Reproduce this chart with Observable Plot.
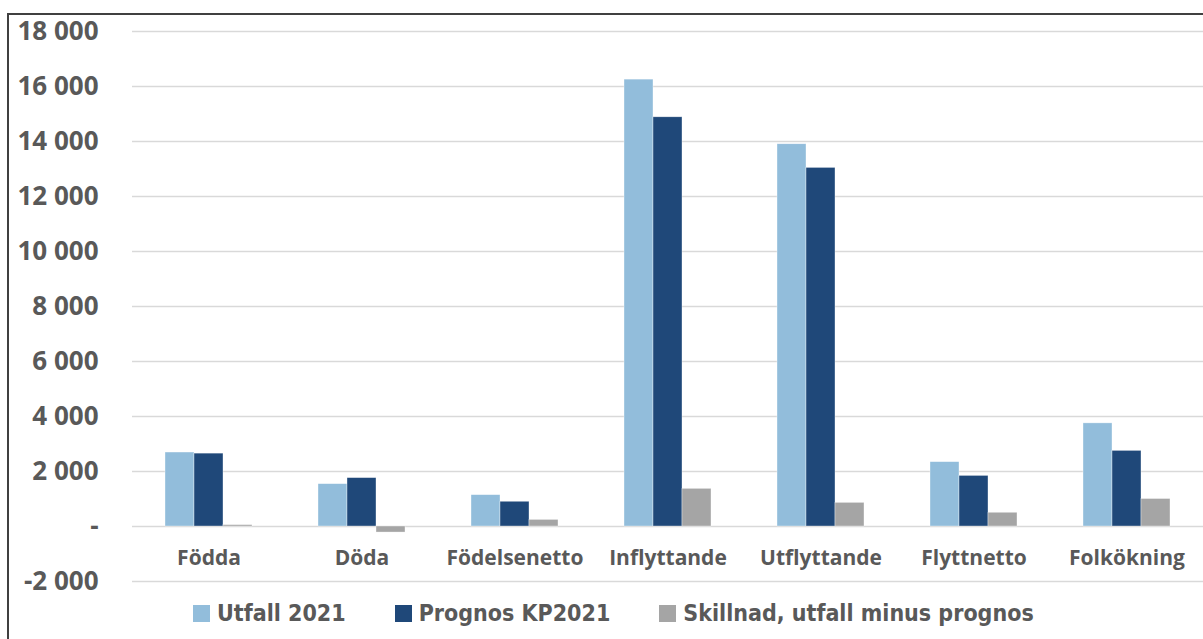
<!DOCTYPE html>
<html>
<head>
<meta charset="utf-8">
<script src="https://cdn.jsdelivr.net/npm/d3@7"></script>
<script src="https://cdn.jsdelivr.net/npm/@observablehq/plot@0.6"></script>
<style>
  html, body { margin: 0; padding: 0; background: #fff; }
  #wrap { position: relative; width: 1203px; height: 639px; overflow: hidden; }
  #border { position: absolute; left: 7px; top: 13px; width: 1300px; height: 700px; border-left: 2px solid #404040; border-top: 2px solid #404040; box-sizing: border-box; pointer-events: none; }
  #chart { position: absolute; left: 0; top: 0; }
  #legend { position: absolute; left: 193px; top: 597px; height: 32px; display: flex; align-items: center;
    font-family: "Liberation Sans Narrow", "DejaVu Sans Condensed", sans-serif; font-weight: bold; font-size: 23px; color: #595959; }
  .item { display: flex; align-items: center; margin-right: 49px; white-space: nowrap; }
  .sw { width: 17px; height: 17px; margin-right: 7px; }
</style>
</head>
<body>
<div id="wrap">
  <div id="chart"></div>
  <div id="border"></div>
  <div id="legend"></div>
</div>
<script>
const categories = ["Födda", "Döda", "Födelsenetto", "Inflyttande", "Utflyttande", "Flyttnetto", "Folkökning"];
const seriesNames = ["Utfall 2021", "Prognos KP2021", "Skillnad, utfall minus prognos"];
const utfall2021 = [2690, 1540, 1140, 16250, 13900, 2340, 3750];
const prognosKP2021 = [2650, 1760, 900, 14880, 13040, 1840, 2750];
const skillnad = [50, -220, 240, 1370, 860, 500, 1000];
const colors = ["#92BDDB", "#1F4879", "#A5A5A5"];
const yTicks = [-2000, 0, 2000, 4000, 6000, 8000, 10000, 12000, 14000, 16000, 18000];

const seriesValues = [utfall2021, prognosKP2021, skillnad];
const data = [];
categories.forEach((c, i) => {
  seriesNames.forEach((s, j) => data.push({category: c, series: s, value: seriesValues[j][i]}));
});

const fmt = d => d === 0 ? "-" : (d < 0 ? "-" : "") + d3.format(",")(Math.abs(d)).replace(/,/g, " ");

const chart = Plot.plot({
  width: 1203,
  height: 595,
  marginLeft: 131,
  marginRight: 0,
  marginTop: 31,
  marginBottom: 14,
  style: {background: "transparent", overflow: "visible"},
  fx: {domain: categories, padding: 0, axis: null},
  x: {domain: seriesNames, paddingInner: 0, paddingOuter: 1.09, axis: null},
  y: {domain: [-2000, 18000], ticks: yTicks, tickFormat: fmt, tickSize: 0, tickPadding: 34, label: null},
  color: {domain: seriesNames, range: colors},
  marks: [
    Plot.ruleY(yTicks, {stroke: "#D9D9D9", strokeWidth: 1.5}),
    Plot.barY(data, {fx: "category", x: "series", y: "value", fill: "series", stroke: "#fff", strokeWidth: 0.6, strokeOpacity: 0.6}),
    Plot.text(categories, {fx: d => d, y: () => 0, text: d => d, dy: 32, fill: "#595959",
      fontSize: 21, fontWeight: "bold", fontFamily: "Open Sans", lineAnchor: "middle"})
  ]
});
const yAxis = chart.querySelector("g[aria-label='y-axis tick label']");
if (yAxis) {
  yAxis.setAttribute("font-size", "26");
  yAxis.setAttribute("font-weight", "bold");
  yAxis.setAttribute("font-family", "Open Sans");
  yAxis.setAttribute("fill", "#595959");
  yAxis.style.fill = "#595959";
}
document.getElementById("chart").appendChild(chart);

const legend = document.getElementById("legend");
seriesNames.forEach((s, i) => {
  const item = document.createElement("div");
  item.className = "item";
  const sw = document.createElement("div");
  sw.className = "sw";
  sw.style.background = colors[i];
  const t = document.createElement("span");
  t.textContent = s;
  item.appendChild(sw);
  item.appendChild(t);
  legend.appendChild(item);
});
</script>
</body>
</html>
